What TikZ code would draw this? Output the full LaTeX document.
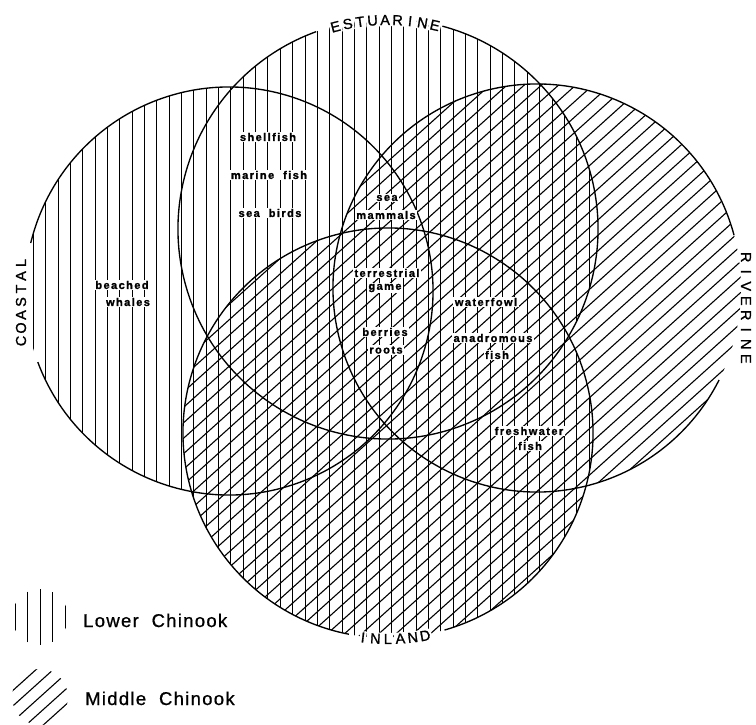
\documentclass[tikz,border=0pt]{standalone}
\usepackage{fontspec}
\setmainfont{Liberation Sans}
\newfontfamily\lblfont[LetterSpace=13,FakeBold=1.5]{Liberation Sans}
\newfontfamily\capfont[LetterSpace=7,FakeBold=0.8]{Liberation Sans}
\newfontfamily\namefont[FakeBold=1.2]{Liberation Sans}
\usetikzlibrary{calc}
\tikzset{
  hatch/.style={line width=1.1pt, black},
  rim/.style={line width=1.35pt, black},
  item/.style={fill=white, inner xsep=1.5pt, inner ysep=1.2pt,
    font=\lblfont\bfseries\fontsize{11}{13}\selectfont},
  circname/.style={fill=white, inner sep=1.2pt, font=\namefont\fontsize{14.5}{16}\selectfont},
  legendtext/.style={font=\capfont\fontsize{18.5}{20}\selectfont, anchor=base west, inner sep=0pt},
}
\begin{document}
\begin{tikzpicture}[x=1pt,y=-1pt]
\useasboundingbox (0,0) rectangle (756,725);
% circle centres
\coordinate (cC) at (229,291);
\coordinate (cE) at (388,229);
\coordinate (cR) at (537,288);
\coordinate (cI) at (388,433);
% vertical hatching: Coastal, Estuarine, Inland
\begin{scope}
  \clip (cC) circle[radius=204pt] (cE) circle[radius=210pt] (cI) circle[radius=205pt];
  \foreach \k in {-2,...,60} {
    \pgfmathsetmacro\xx{floor(33.3+12.35*\k)+0.5}
    \draw[hatch, line width=1pt] (\xx,0) -- (\xx,725);
  }
\end{scope}
% diagonal hatching: Riverine, Inland
\begin{scope}
  \clip (cR) circle[radius=204pt] (cI) circle[radius=205pt];
  \foreach \k in {0,...,95} {
    \pgfmathsetmacro\cc{\k*11.5}
    \draw[hatch] ({\cc*sin(42)-1100*cos(42)},{\cc*cos(42)+1100*sin(42)})
      -- ({\cc*sin(42)+1100*cos(42)},{\cc*cos(42)-1100*sin(42)});
  }
\end{scope}
% circle outlines with gaps for names
\draw[rim] ($(cC)+(200.4:204pt)$) arc[start angle=200.4, end angle=526.4, radius=204pt];
\draw[rim] ($(cE)+(110:210pt)$) arc[start angle=110, end angle=435, radius=210pt];
\draw[rim] ($(cR)+(15:204pt)$) arc[start angle=15, end angle=333.2, radius=204pt];
\draw[rim] ($(cI)+(286:205pt)$) arc[start angle=286, end angle=619, radius=205pt];
% circle names
\foreach \ch [count=\i] in {E,S,T,U,A,R,I,N,E} {
  \pgfmathsetmacro\ang{90.8+(5-\i)*3.44}
  \node[circname, rotate=\ang-90] (est\i) at ($(cE)+(\ang:209pt)$) {\ch};
}
\foreach \ch [count=\i] in {I,N,L,A,N,D} {
  \pgfmathsetmacro\ang{271.7+(\i-3.5)*3.47}
  \node[circname, rotate=\ang-270] (inl\i) at ($(cI)+(\ang:206pt)$) {\ch};
}
\foreach \ch [count=\i] in {C,O,A,S,T,A,L} {
  \node[circname, rotate=90] (coa\i) at (21,{302+(4-\i)*13}) {\ch};
}
\foreach \ch [count=\i] in {R,I,V,E,R,I,N,E} {
  \node[circname, rotate=-90] (riv\i) at (746,{308+(\i-4.5)*14.5}) {\ch};
}
% resources
\node[item] (shell) at (268,137) {shellfish};
\node[item] (marine) at (269,175) {marine~~fish};
\node[item] (birds) at (270,213) {sea~~birds};
\node[item] (beached) at (122,285) {beached};
\node[item] (whales) at (128,302) {whales};
\node[item] (sea) at (387,198) {sea};
\node[item] (mammals) at (386,215) {mammals};
\node[item] (terr) at (387,273) {terrestrial};
\node[item] (game) at (385,288) {game};
\node[item] (berries) at (385,332) {berries};
\node[item] (roots) at (386,350) {roots};
\node[item] (fowl) at (486,302) {waterfowl};
\node[item] (anad) at (493,338) {anadromous};
\node[item] (afish) at (497,355) {fish};
\node[item] (fresh) at (529,431) {freshwater};
\node[item] (ffish) at (530,446) {fish};
% legend
\coordinate (lgV) at (40,617);
\coordinate (lgD) at (40,697);
\begin{scope}
  \clip (lgV) circle[radius=28pt];
  \foreach \k in {-2,...,2} {
    \pgfmathsetmacro\xx{floor(40+12.5*\k)+0.5}
    \draw[hatch, line width=1.2pt] (\xx,585) -- (\xx,650);
  }
\end{scope}
\begin{scope}
  \clip (lgD) circle[radius=28pt];
  \foreach \k in {-3,...,3} {
    \pgfmathsetmacro\cc{\k*11.5}
    \draw[hatch] ($(lgD)+({\cc*sin(42)-60*cos(42)},{\cc*cos(42)+60*sin(42)})$)
      -- ($(lgD)+({\cc*sin(42)+60*cos(42)},{\cc*cos(42)-60*sin(42)})$);
  }
\end{scope}
\node[legendtext] (lower) at (83,627) {Lower~~Chinook};
\node[legendtext] (middle) at (85,705) {Middle~~Chinook};
\end{tikzpicture}
\end{document}
